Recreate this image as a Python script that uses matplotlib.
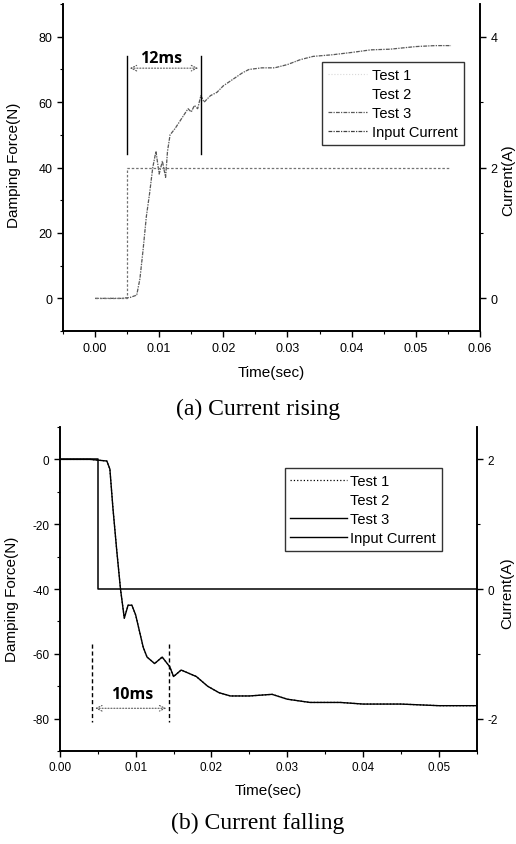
import matplotlib
matplotlib.use("Agg")
import matplotlib.pyplot as plt
from matplotlib.ticker import MultipleLocator, FuncFormatter

plt.rcParams["font.family"] = ["Liberation Sans", "DejaVu Sans"]
plt.rcParams["axes.unicode_minus"] = False

# (a) current rising -- force trace
rise_t = [0.000, 0.004, 0.0055, 0.0065, 0.0070, 0.0075, 0.0080, 0.0085, 0.0090,
          0.0095, 0.0100, 0.0105, 0.0110, 0.0113, 0.0117, 0.0125, 0.0135, 0.0145,
          0.0150, 0.0155, 0.0160, 0.0165, 0.0170, 0.0180, 0.0190, 0.0200, 0.0215,
          0.0230, 0.0240, 0.0260, 0.0280, 0.0300, 0.0320, 0.0340, 0.0370, 0.0400,
          0.0430, 0.0460, 0.0500, 0.0530, 0.0555]
rise_force = [0, 0, 0.3, 1, 6, 15, 25, 32, 40,
              45, 38, 42, 37, 45, 50, 52, 55, 58,
              57, 59, 58, 62, 60, 62, 63, 65, 67,
              69, 70, 70.5, 70.5, 71.5, 73, 74, 74.5, 75.2,
              76, 76.2, 77, 77.3, 77.3]
rise_cur_t = [0.0, 0.005, 0.005, 0.0552]
rise_cur = [0, 0, 2, 2]

# (b) current falling
fall_t = [0.000, 0.0040, 0.0062, 0.0066, 0.0070, 0.0075, 0.0080, 0.0085, 0.0090,
          0.0095, 0.0100, 0.0105, 0.0110, 0.0115, 0.0125, 0.0135, 0.0145, 0.0150,
          0.0160, 0.0170, 0.0180, 0.0190, 0.0195, 0.0210, 0.0225, 0.0250, 0.0280,
          0.0300, 0.0330, 0.0370, 0.0400, 0.0450, 0.0500, 0.0550]
fall_force = [0, 0, -0.5, -3, -15, -28, -40, -49, -45,
              -45, -48, -53, -58, -61, -63, -61, -64, -67,
              -65, -66, -67, -69, -70, -72, -73, -73, -72.5,
              -74, -75, -75, -75.5, -75.5, -76, -76]
fall_cur_t = [0.0, 0.005, 0.005, 0.055]
fall_cur = [2, 2, 0, 0]

SERIF = ["Liberation Serif", "DejaVu Serif"]
BOLD_SANS = ["Open Sans", "DejaVu Sans"]


def style_axes(ax, ax2, labelsize):
    ax.spines["top"].set_visible(False)
    ax2.spines["top"].set_visible(False)
    for a in (ax, ax2):
        a.tick_params(which="major", direction="out", length=4, width=1,
                      labelsize=labelsize)
        a.tick_params(which="minor", direction="out", length=2.5, width=0.8)
        for s in a.spines.values():
            s.set_linewidth(1.2)


def set_ticks(ax, ax2):
    ax.xaxis.set_major_locator(MultipleLocator(0.01))
    ax.xaxis.set_minor_locator(MultipleLocator(0.005))
    ax.xaxis.set_major_formatter(FuncFormatter(lambda v, p: f"{v:.2f}"))
    ax.yaxis.set_major_locator(MultipleLocator(20))
    ax.yaxis.set_minor_locator(MultipleLocator(10))
    ax2.yaxis.set_major_locator(MultipleLocator(2))
    ax2.yaxis.set_minor_locator(MultipleLocator(1))


def labels(ax, ax2, left_xy, right_xy, bottom_y):
    ax.set_xlabel("Time(sec)", fontsize=11)
    ax.set_ylabel("Damping Force(N)", fontsize=11)
    ax2.set_ylabel("Current(A)", fontsize=11)
    for lab in (ax.xaxis.label, ax.yaxis.label, ax2.yaxis.label):
        lab.set_verticalalignment("center")
        lab.set_horizontalalignment("center")
    ax.xaxis.set_label_coords(0.5, bottom_y)
    ax.yaxis.set_label_coords(*left_xy)
    ax2.yaxis.set_label_coords(*right_xy)


def dimension(ax, x0, x1, y0, y1, ya, label, tx, ty, ls):
    ax.plot([x0, x0], [y0, y1], color="black", lw=1, ls=ls)
    ax.plot([x1, x1], [y0, y1], color="black", lw=1, ls=ls)
    ax.annotate("", xy=(x0, ya), xytext=(x1, ya),
                arrowprops=dict(arrowstyle="<->", color="0.35", lw=0.8, ls=":"))
    ax.text(tx, ty, label, ha="center", va="center",
            fontsize=11.5, fontweight="bold", family=BOLD_SANS)


def legend(ax, anchor, pad, hlen):
    leg = ax.legend(loc="upper right", bbox_to_anchor=anchor, fontsize=10.5,
                    frameon=True, fancybox=False, edgecolor="black",
                    handlelength=hlen, handletextpad=pad, borderpad=0.4,
                    labelspacing=0.35, borderaxespad=0)
    leg.get_frame().set_linewidth(1.0)


fig = plt.figure(figsize=(5.16, 8.45), dpi=100)

# ---- panel (a)
ax = fig.add_axes([0.122, 0.607, 0.808, 0.387])
ax2 = ax.twinx()
ax.plot(rise_t, rise_force, color="0.85", lw=0.8, ls=":", label="Test 1")
ax.plot(rise_t, rise_force, color="white", lw=0.0, label="Test 2")
ax.plot(rise_t, rise_force, color="0.35", lw=0.9, ls=(0, (3, 1, 1, 1)), label="Test 3")
ax2.plot(rise_cur_t, rise_cur, color="0.45", lw=0.9, ls=(0, (2, 1.5)))
ax.plot([], [], color="0.25", lw=0.9, ls=(0, (3, 1, 1, 1)), label="Input Current")
ax.set_xlim(-0.005, 0.06)
ax.set_ylim(-10, 90)
ax2.set_ylim(-0.5, 4.5)
set_ticks(ax, ax2)
style_axes(ax, ax2, 9)
labels(ax, ax2, (-0.1175, 0.51), (1.067, 0.465), -0.125)
legend(ax, (0.962, 0.823), 0.35, 2.7)
dimension(ax, 0.005, 0.0165, 44, 74, 70.4, "12ms", 0.0103, 73.5, "-")
fig.text(0.5, 0.515, "(a) Current rising", ha="center", va="center",
         fontsize=17, family=SERIF)

# ---- panel (b)
bx = fig.add_axes([0.116, 0.110, 0.808, 0.3835])
bx2 = bx.twinx()
bx.plot(fall_t, fall_force, color="black", lw=0.9, ls=":", label="Test 1")
bx.plot(fall_t, fall_force, color="white", lw=0.0, label="Test 2")
bx.plot(fall_t, fall_force, color="black", lw=1.0, label="Test 3")
bx2.plot(fall_cur_t, fall_cur, color="black", lw=1.1)
bx.plot([], [], color="black", lw=1.0, label="Input Current")
bx.set_xlim(0, 0.055)
bx.set_ylim(-90, 10)
bx2.set_ylim(-2.5, 2.5)
set_ticks(bx, bx2)
style_axes(bx, bx2, 8.5)
labels(bx, bx2, (-0.115, 0.47), (1.074, 0.49), -0.12)
legend(bx, (0.916, 0.873), 0.2, 3.9)
dimension(bx, 0.0043, 0.0144, -57, -81, -76.8, "10ms", 0.0096, -72.5, (0, (3, 2)))
fig.text(0.5, 0.026, "(b) Current falling", ha="center", va="center",
         fontsize=17, family=SERIF)

fig.savefig("out.png", dpi=100)
